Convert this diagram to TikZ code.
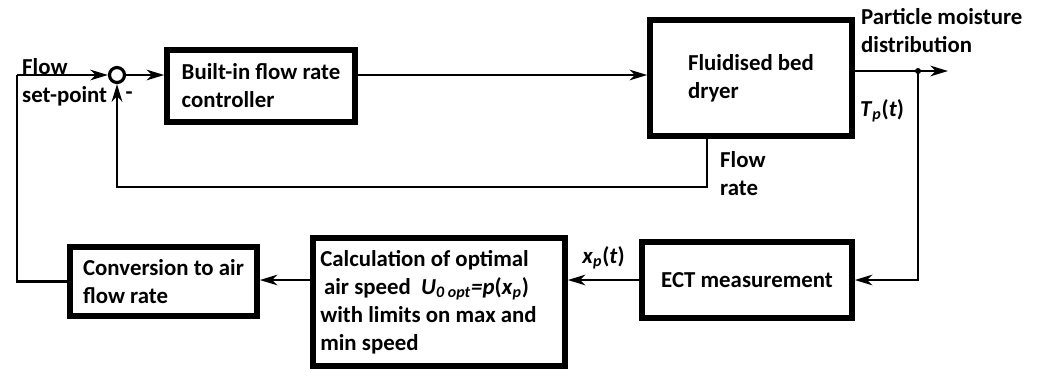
\documentclass[tikz,border=0pt]{standalone}
\usepackage{fontspec}
\setmainfont{Carlito}
\usetikzlibrary{positioning,arrows.meta,calc}

\begin{document}
\begin{tikzpicture}[
  x=0.02cm, y=-0.02cm,
  >={Stealth[length=10pt,width=6pt,inset=3pt]}, % 箭头样式
  every node/.style={font=\fontsize{13}{15.9}\selectfont\bfseries},
  block/.style={draw, line width=3.2pt, align=flush left, inner sep=0pt},
  link/.style={line width=1.5pt}
]
\useasboundingbox (0,0) rectangle (1043,370);

% 上排
\node (sum) [draw, circle, line width=1.8pt, minimum size=0.3cm, inner sep=0pt] at (117,75) {};
\node (builtin) [block, minimum width=3.76cm, minimum height=1.44cm] at (261,86) {Built-in flow rate\\controller};
\node (dryer) [block, minimum width=4.04cm, minimum height=2.32cm] at (751,78) {Fluidised bed\\dryer};

% 下排
\node (ECT) [block, minimum width=4.2cm, minimum height=1.52cm] at (747,280) {ECT measurement};
\node (calc) [block, minimum width=5.04cm, minimum height=2.56cm, text width=4.75cm] at (439,302)
  {Calculation of optimal\\
   \,air speed~~\textit{U}\textsubscript{\textit{0 opt}}\textit{=p}(\textit{x}\textsubscript{\textit{p}})\\
   with limits on max and\\
   min speed};
\node (conv) [block, minimum width=3.74cm, minimum height=1.38cm] at (163.5,281.5) {Conversion to air\\flow rate};

% 辅助点
\coordinate (in) at (17,75);
\coordinate (tap) at (918,71);
\coordinate (out) at (948,71);
\coordinate (fbk) at (707,187);

% 标注
\node (setpt) [anchor=west, align=left] at (16,82) {Flow\\set-point};
\node (minus) at (129,96) {-};
\node (moist) [anchor=west, align=left] at (855,31) {Particle moisture\\distribution};
\node (Tp) at (882,111) {\textit{T}\textsubscript{\textit{p}}(\textit{t})};
\node (frate) [anchor=west, align=left] at (714,174) {Flow\\rate};

% 箭头
\draw[link, ->] (in) -- (sum.west);
\draw[link, ->] (sum.east) -- (sum.east -| builtin.west);
\draw[link, ->] (sum.east -| builtin.east) -- (sum.east -| dryer.west);
\draw[link, ->] (tap -| dryer.east) -- (out);
\fill (tap) circle (3);
\draw[link, ->] (fbk |- dryer.south) -- (fbk) -| (sum.south);
\draw[link, ->] (tap) |- (ECT.east);
\draw[link, ->] (ECT.west) -- node[above=2pt] {\textit{x}\textsubscript{\textit{p}}(\textit{t})} (ECT.west -| calc.east);
\draw[link, ->] (ECT.west -| calc.west) -- (ECT.west -| conv.east);
\draw[link] (conv.west) -| (in);
\end{tikzpicture}
\end{document}
